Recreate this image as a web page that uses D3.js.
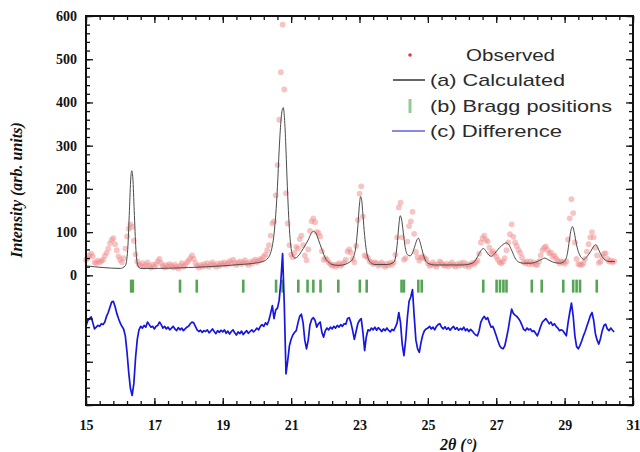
<!DOCTYPE html>
<html>
<head>
<meta charset="utf-8">
<script src="https://cdn.jsdelivr.net/npm/d3@7"></script>
<style>
  body { margin: 0; background: #fff; }
  svg { display: block; }
</style>
</head>
<body>
<svg width="640" height="452"></svg>
<script>
// observed / difference are sampled on a 0.05 deg grid starting at 15.00
var obsStart = 15.0, obsStep = 0.05;

var observed = [
    36, 40, 46, 50, 44, 30, 28, 34, 30, 33,
    36, 45, 52, 62, 74, 82, 86, 72, 58, 44,
    36, 30, 40, 62, 90, 108, 118, 112, 80, 48,
    32, 25, 22, 28, 20, 24, 30, 22, 18, 25,
    20, 26, 33, 38, 28, 22, 18, 24, 20, 26,
    22, 18, 25, 20, 16, 22, 28, 20, 24, 30,
    34, 40, 46, 38, 28, 22, 18, 24, 20, 26,
    22, 28, 20, 25, 30, 24, 20, 27, 22, 28,
    25, 30, 24, 28, 33, 27, 36, 30, 24, 29,
    32, 26, 30, 35, 28, 24, 31, 27, 33, 36,
    30, 34, 38, 36, 44, 48, 58, 70, 92, 120,
    125, 185, 255, 360, 470, 580, 430, 190, 120, 70,
    48, 42, 52, 66, 62, 84, 92, 70, 46, 35,
    60, 103, 125, 132, 123, 100, 98, 90, 56, 36,
    40, 36, 30, 26, 22, 25, 20, 24, 28, 22,
    26, 30, 36, 55, 60, 52, 38, 30, 68, 128,
    189, 206, 136, 46, 44, 40, 32, 30, 26, 30,
    28, 22, 26, 30, 24, 20, 27, 23, 29, 25,
    30, 48, 88, 157, 168, 88, 36, 40, 78, 114,
    125, 147, 96, 54, 42, 34, 41, 44, 40, 37,
    28, 22, 25, 30, 24, 20, 26, 32, 28, 24,
    22, 27, 21, 25, 30, 24, 20, 26, 22, 28,
    24, 30, 22, 26, 20, 25, 29, 26, 30, 34,
    50, 76, 86, 92, 82, 78, 64, 52, 56, 50,
    43, 36, 30, 28, 32, 40, 58, 76, 95, 118,
    89, 76, 68, 59, 52, 42, 31, 28, 32, 26,
    32, 26, 30, 25, 24, 32, 46, 58, 64, 67,
    59, 51, 53, 43, 46, 39, 34, 28, 32, 31,
    27, 32, 83, 132, 176, 144, 76, 38, 26, 25,
    24, 28, 38, 55, 72, 88, 100, 88, 64, 46,
    29, 32, 43, 50, 51, 38, 32, 34, 30, 33
];

// difference curve, already shifted down as plotted
var difference = [
    -118, -105, -100, -96, -110, -124, -120, -116, -118, -112,
    -114, -108, -95, -86, -74, -62, -60, -72, -88, -100,
    -110, -118, -124, -140, -178, -225, -262, -278, -250, -190,
    -148, -126, -118, -122, -116, -120, -108, -114, -120, -118,
    -124, -118, -116, -108, -114, -122, -118, -124, -120, -126,
    -122, -118, -124, -128, -121, -126, -122, -128, -124, -120,
    -118, -112, -108, -110, -118, -126, -130, -127, -132, -128,
    -130, -126, -133, -129, -124, -130, -135, -128, -132, -127,
    -131, -126, -134, -129, -136, -130, -126, -133, -138, -131,
    -135, -129, -137, -132, -128, -134, -130, -126, -131, -127,
    -122, -126, -118, -114, -118, -110, -114, -104, -88, -70,
    -100, -80, -76, -58, -13, 50, -68, -228, -198, -163,
    -148, -138, -132, -128, -110, -95, -90, -110, -150, -170,
    -150, -115, -102, -98, -104, -120, -112, -108, -132, -143,
    -128, -122, -126, -120, -124, -118, -122, -116, -120, -114,
    -118, -112, -113, -100, -98, -110, -128, -148, -130, -112,
    -104, -100, -132, -174, -142, -126, -128, -122, -126, -120,
    -127, -121, -125, -130, -124, -128, -122, -127, -131, -125,
    -128, -120, -110, -86, -110, -160, -186, -150, -98, -60,
    -50, -33, -95, -150, -170, -178, -155, -138, -128, -124,
    -122, -118, -124, -120, -126, -118, -114, -112, -120, -124,
    -119, -125, -121, -127, -122, -118, -125, -121, -127, -123,
    -126, -120, -128, -124, -130, -125, -129, -134, -138, -140,
    -128, -108, -100, -95, -102, -98, -110, -120, -118, -128,
    -140, -152, -163, -168, -170, -163, -145, -125, -100, -78,
    -88, -92, -95, -100, -106, -115, -125, -128, -122, -126,
    -124, -130, -128, -134, -140, -130, -118, -108, -104, -100,
    -106, -112, -108, -116, -112, -118, -122, -128, -126, -128,
    -134, -140, -110, -86, -64, -94, -140, -165, -170, -162,
    -152, -140, -130, -118, -106, -94, -86, -104, -135, -150,
    -159, -146, -128, -116, -113, -124, -128, -122, -127, -131
];

// calculated profile as [2theta, intensity]
var calculated = [
    [15.00, 22], [15.50, 18], [16.00, 16], [16.15, 22], [16.22, 60], [16.27, 150],
    [16.31, 225], [16.34, 242], [16.37, 225], [16.41, 150], [16.46, 60], [16.52, 22],
    [16.60, 16], [17.00, 16], [18.00, 18], [19.00, 22], [19.50, 25], [20.00, 29],
    [20.20, 33], [20.30, 38], [20.40, 52], [20.45, 68], [20.50, 95], [20.55, 140],
    [20.60, 205], [20.65, 290], [20.70, 355], [20.74, 383], [20.77, 388], [20.80, 370],
    [20.84, 310], [20.88, 225], [20.92, 150], [20.96, 95], [21.00, 62], [21.05, 45],
    [21.12, 40], [21.20, 44], [21.30, 55], [21.40, 68], [21.50, 82], [21.58, 96],
    [21.65, 102], [21.72, 98], [21.80, 82], [21.90, 60], [22.00, 40], [22.10, 30],
    [22.20, 25], [22.40, 23], [22.60, 26], [22.70, 30], [22.80, 38], [22.85, 48],
    [22.90, 70], [22.95, 112], [23.00, 165], [23.03, 182], [23.06, 176], [23.10, 140],
    [23.15, 92], [23.20, 58], [23.25, 40], [23.32, 30], [23.45, 25], [23.80, 25],
    [24.00, 30], [24.05, 40], [24.10, 70], [24.15, 115], [24.19, 138], [24.23, 130],
    [24.28, 100], [24.33, 68], [24.40, 48], [24.48, 45], [24.55, 52], [24.62, 68],
    [24.68, 82], [24.72, 86], [24.76, 80], [24.82, 62], [24.90, 40], [25.00, 28],
    [25.20, 24], [26.00, 24], [26.30, 28], [26.40, 36], [26.50, 50], [26.58, 60],
    [26.63, 62], [26.70, 56], [26.78, 47], [26.86, 44], [26.95, 50], [27.05, 60],
    [27.15, 68], [27.25, 74], [27.30, 75], [27.36, 72], [27.45, 58], [27.55, 40],
    [27.65, 31], [27.80, 28], [28.00, 28], [28.20, 32], [28.35, 38], [28.42, 40],
    [28.50, 37], [28.65, 31], [28.85, 28], [29.00, 33], [29.08, 50], [29.14, 82],
    [29.19, 106], [29.23, 113], [29.27, 104], [29.33, 78], [29.40, 55], [29.48, 42],
    [29.56, 37], [29.66, 44], [29.76, 55], [29.84, 66], [29.91, 71], [29.97, 64],
    [30.05, 50], [30.15, 38], [30.30, 32], [30.47, 32]
];

var braggPositions = [
    16.32, 16.37, 17.75, 18.24, 19.60, 20.56, 20.75, 21.21, 21.48, 21.65,
    21.86, 22.38, 23.01, 23.21, 24.23, 24.30, 24.72, 24.82, 26.62, 27.01,
    27.11, 27.21, 27.30, 28.04, 28.33, 28.96, 29.25, 29.35, 29.45, 29.94
];

var xTicks = [15, 17, 19, 21, 23, 25, 27, 29, 31];
var yTicks = [0, 100, 200, 300, 400, 500, 600];
var yMajor = [-300, -200, -100, 0, 100, 200, 300, 400, 500, 600];
var legendLabels = ["Observed", "(a) Calculated", "(b) Bragg positions", "(c) Difference"];

function main() {
    var svg = d3.select("svg");
    var left = 86, top = 16;
    var width = 547, height = 389;

    var xScale = d3.scaleLinear().domain([15, 31]).range([0, width]);
    var yScale = d3.scaleLinear().domain([-300, 600]).range([height, 0]);

    var g = svg.append("g").attr("transform", "translate(" + left + "," + top + ")");

    // observed points
    g.append("g").selectAll("circle")
        .data(observed)
        .enter().append("circle")
        .attr("cx", function (d, i) { return xScale(obsStart + i * obsStep); })
        .attr("cy", function (d) { return yScale(d); })
        .attr("r", 2.9)
        .attr("fill", "#f08a8a")
        .attr("fill-opacity", 0.5);

    // calculated profile
    var calcLine = d3.line()
        .x(function (d) { return xScale(d[0]); })
        .y(function (d) { return yScale(d[1]); })
        .curve(d3.curveMonotoneX);
    g.append("path")
        .datum(calculated)
        .attr("d", calcLine)
        .attr("fill", "none")
        .attr("stroke", "#4a4a4a")
        .attr("stroke-width", 1);

    // bragg markers
    g.append("g").selectAll("line")
        .data(braggPositions)
        .enter().append("line")
        .attr("x1", function (d) { return xScale(d); })
        .attr("x2", function (d) { return xScale(d); })
        .attr("y1", yScale(-10))
        .attr("y2", yScale(-40))
        .attr("stroke", "#55a555")
        .attr("stroke-width", 2.6);

    // difference curve
    var diffLine = d3.line()
        .x(function (d, i) { return xScale(obsStart + i * obsStep); })
        .y(function (d) { return yScale(d); });
    g.append("path")
        .datum(difference)
        .attr("d", diffLine)
        .attr("fill", "none")
        .attr("stroke", "#1616e0")
        .attr("stroke-width", 1.7)
        .attr("stroke-linejoin", "round");

    // axes, ticks pointing inward on all four sides
    var xMinor = d3.range(15, 31.01, 0.4);
    var yMinor = d3.range(-300, 601, 20);
    var fmtNone = function () { return ""; };

    function styleAxis(sel) {
        sel.select(".domain").remove();
        sel.selectAll("line").attr("stroke", "#111").attr("stroke-width", 1.3);
        sel.selectAll("text")
            .attr("fill", "#111")
            .attr("font-family", "'Liberation Serif', 'Times New Roman', serif")
            .attr("font-weight", "bold")
            .attr("font-size", "14px");
    }

    g.append("g").attr("transform", "translate(0," + height + ")")
        .call(d3.axisBottom(xScale).tickValues(xMinor).tickSize(-4).tickFormat(fmtNone)).call(styleAxis);
    g.append("g").attr("transform", "translate(0," + height + ")")
        .call(d3.axisBottom(xScale).tickValues(xTicks).tickSize(-7).tickPadding(15).tickFormat(d3.format("d"))).call(styleAxis);
    g.append("g")
        .call(d3.axisTop(xScale).tickValues(xMinor).tickSize(-4).tickFormat(fmtNone)).call(styleAxis);
    g.append("g")
        .call(d3.axisTop(xScale).tickValues(xTicks).tickSize(-7).tickFormat(fmtNone)).call(styleAxis);

    g.append("g")
        .call(d3.axisLeft(yScale).tickValues(yMinor).tickSize(-4).tickFormat(fmtNone)).call(styleAxis);
    g.append("g")
        .call(d3.axisLeft(yScale).tickValues(yMajor).tickSize(-7).tickPadding(9)
            .tickFormat(function (d) { return yTicks.indexOf(d) >= 0 ? d : ""; })).call(styleAxis);
    g.append("g").attr("transform", "translate(" + width + ",0)")
        .call(d3.axisRight(yScale).tickValues(yMinor).tickSize(-4).tickFormat(fmtNone)).call(styleAxis);
    g.append("g").attr("transform", "translate(" + width + ",0)")
        .call(d3.axisRight(yScale).tickValues(yMajor).tickSize(-7).tickFormat(fmtNone)).call(styleAxis);

    // frame
    g.append("rect")
        .attr("width", width)
        .attr("height", height)
        .attr("fill", "none")
        .attr("stroke", "#111")
        .attr("stroke-width", 2);

    // axis titles
    svg.append("text")
        .attr("transform", "translate(22,190) rotate(-90)")
        .attr("text-anchor", "middle")
        .attr("font-family", "'Liberation Serif', 'Times New Roman', serif")
        .attr("font-weight", "bold")
        .attr("font-style", "italic")
        .attr("font-size", "16px")
        .attr("fill", "#111")
        .text("Intensity (arb. units)");

    svg.append("text")
        .attr("x", 440)
        .attr("y", 450)
        .attr("font-family", "'Liberation Serif', 'Times New Roman', serif")
        .attr("font-weight", "bold")
        .attr("font-style", "italic")
        .attr("font-size", "16px")
        .attr("fill", "#111")
        .text("2θ (°)");

    // legend
    var legend = svg.append("g");
    var rowY = [55, 80, 106, 131];
    var textX = [466, 430, 430, 430];
    var textW = [89, 135, 182, 132];

    legend.append("circle").attr("cx", 410).attr("cy", rowY[0]).attr("r", 1.8).attr("fill", "#e03a3a");
    legend.append("line").attr("x1", 393).attr("x2", 425).attr("y1", rowY[1]).attr("y2", rowY[1])
        .attr("stroke", "#333").attr("stroke-width", 1.5);
    legend.append("line").attr("x1", 410).attr("x2", 410).attr("y1", rowY[2] - 7).attr("y2", rowY[2] + 7)
        .attr("stroke", "#93cc93").attr("stroke-width", 3);
    legend.append("line").attr("x1", 392).attr("x2", 425).attr("y1", rowY[3]).attr("y2", rowY[3])
        .attr("stroke", "#6060dc").attr("stroke-width", 1.5);

    legend.selectAll("text")
        .data(legendLabels)
        .enter().append("text")
        .attr("x", function (d, i) { return textX[i]; })
        .attr("y", function (d, i) { return rowY[i] + 6; })
        .attr("textLength", function (d, i) { return textW[i]; })
        .attr("lengthAdjust", "spacingAndGlyphs")
        .attr("font-family", "'Liberation Sans', Arial, sans-serif")
        .attr("font-size", "17px")
        .attr("fill", "#2a2a2a")
        .text(function (d) { return d; });
}

main();
</script>
</body>
</html>
